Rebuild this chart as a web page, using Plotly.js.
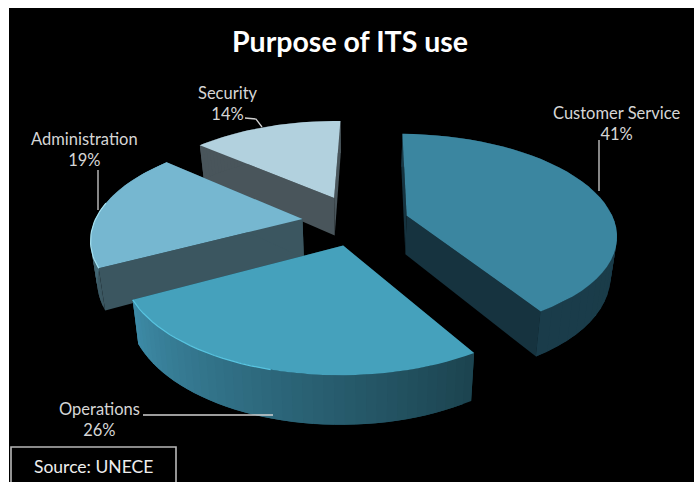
<!DOCTYPE html>
<html><head><meta charset="utf-8">
<script src="https://cdn.plot.ly/plotly-3.0.1.min.js"></script>
<style>html,body{margin:0;padding:0;background:#fff;overflow:hidden}</style></head>
<body><div id="chart" style="width:694px;height:482px"></div>
<script>
const categories = ["Customer Service","Operations","Administration","Security"];
const values = [41,26,19,14];
const topColors = ["#3b86a0","#45a1bc","#76b7d0","#b2d1de"];
const wallColors = ["#16333f","#1d4a58","#3b5660","#49555b"];
const rimStart = ["#1a3a47","#1c4450","#3b5660","#49555b"];
const rimEnd = ["#1a3c4a","#3e8ca8","#5d9db5","#49555b"];
const pulls = [0.25,0.24,0.265,0.28];
const drawOrder = [3,2,0,1];
const labelX = [616,99,84,228], labelY = [123,419,149,103];
// highlighted stretch of the rim: [colour, from, to] as fractions of the arc
const rimGlow = [null,["#58c4e0",0.5,1],["#a4e2f2",0,0.55],null];

// view of the tilted exploded pie
const cx=357, cy=222, Sx=208, Sy=98, persp=0.173, depth=39, rotate=1*Math.PI/180;
function project(X,Y,Z){
  const w=1+persp*Y, k=1-0.025*Z;
  return [cx+(Sx*X/w)*k, cy-Sy*Y/w+depth*Z/w];
}
function hex(c){return [1,3,5].map(i=>parseInt(c.substr(i,2),16));}
function mix(a,b,t){const p=hex(a),q=hex(b);return "rgb("+p.map((v,i)=>Math.round(v+(q[i]-v)*t)).join(",")+")";}
function poly(pts,color){
  return {type:"scatter",mode:"lines",x:pts.map(p=>p[0]),y:pts.map(p=>p[1]),fill:"toself",fillcolor:color,
          line:{color:color,width:0},hoverinfo:"skip",showlegend:false};
}
const total=values.reduce((a,b)=>a+b,0);
const traces=[]; const ranges=[]; let acc=0;
values.forEach(v=>{ranges.push([rotate+acc/total*2*Math.PI,rotate+(acc+v)/total*2*Math.PI]);acc+=v;});
drawOrder.forEach(i=>{
  const [a0,a1]=ranges[i], mid=(a0+a1)/2;
  const ox=pulls[i]*Math.sin(mid), oy=pulls[i]*Math.cos(mid), N=40;
  const rim=[];
  for(let n=0;n<=N;n++){const a=a0+(a1-a0)*n/N;rim.push([ox+Math.sin(a),oy+Math.cos(a)]);}
  const wall=(p)=>poly([project(ox,oy,0),project(p[0],p[1],0),project(p[0],p[1],1),project(ox,oy,1),project(ox,oy,0)],wallColors[i]);
  traces.push(wall(rim[0]),wall(rim[N]));
  for(let n=0;n<N;n++){
    const p=rim[n],q=rim[Math.min(n+2,N)];
    traces.push(poly([project(p[0],p[1],0),project(q[0],q[1],0),project(q[0],q[1],1),project(p[0],p[1],1),project(p[0],p[1],0)],mix(rimStart[i],rimEnd[i],n/N)));
  }
  const top=[project(ox,oy,0)].concat(rim.map(p=>project(p[0],p[1],0)));
  top.push(top[0]);
  traces.push(poly(top,topColors[i]));
  if(rimGlow[i]){
    const g=rimGlow[i], seg=rim.slice(Math.round(g[1]*N),Math.round(g[2]*N)+1).map(p=>project(p[0],p[1],0));
    traces.push({type:"scatter",mode:"lines",x:seg.map(p=>p[0]),y:seg.map(p=>p[1]),line:{color:g[0],width:1.2},hoverinfo:"skip",showlegend:false});
  }
});
const grey="#d6d6d6";
const annotations=categories.map((c,i)=>({x:labelX[i],y:labelY[i],xref:"x",yref:"y",text:c+"<br>"+values[i]+"%",showarrow:false,
  font:{family:"Lato, sans-serif",size:16.5,color:grey},align:"center",xanchor:"center",yanchor:"middle"}));
annotations.push({x:350,y:41,xref:"x",yref:"y",text:"<b>Purpose of ITS use</b>",showarrow:false,
  font:{family:"Lato, sans-serif",size:28.5,color:"#ffffff"},xanchor:"center",yanchor:"middle"});
annotations.push({x:93,y:466,xref:"x",yref:"y",text:"Source: UNECE",showarrow:false,
  font:{family:"Lato, sans-serif",size:17.5,color:"#eeeeee"},xanchor:"center",yanchor:"middle"});
const lead=(path)=>({type:"path",path:path,xref:"x",yref:"y",line:{color:"#d0d0d0",width:1.3},layer:"above"});
const layout={width:694,height:482,margin:{l:0,r:0,t:0,b:0},paper_bgcolor:"#ffffff",plot_bgcolor:"#ffffff",showlegend:false,
  xaxis:{range:[0,694],visible:false,fixedrange:true},yaxis:{range:[482,0],visible:false,fixedrange:true},
  annotations:annotations,
  shapes:[
    {type:"rect",x0:9,y0:8,x1:694,y1:482,xref:"x",yref:"y",fillcolor:"#000000",line:{width:0},layer:"below"},
    lead("M245,118 L256,119 L262,127"),lead("M98,170 L98,210"),lead("M599,140 L599,191"),lead("M143,415 L273,415"),
    {type:"path",path:"M11,483 L11,447 L176,447 L176,483",xref:"x",yref:"y",line:{color:"#b8b8b8",width:1.6},layer:"above"}
  ]};
Plotly.newPlot("chart",traces,layout,{displayModeBar:false,staticPlot:true});
</script></body></html>
